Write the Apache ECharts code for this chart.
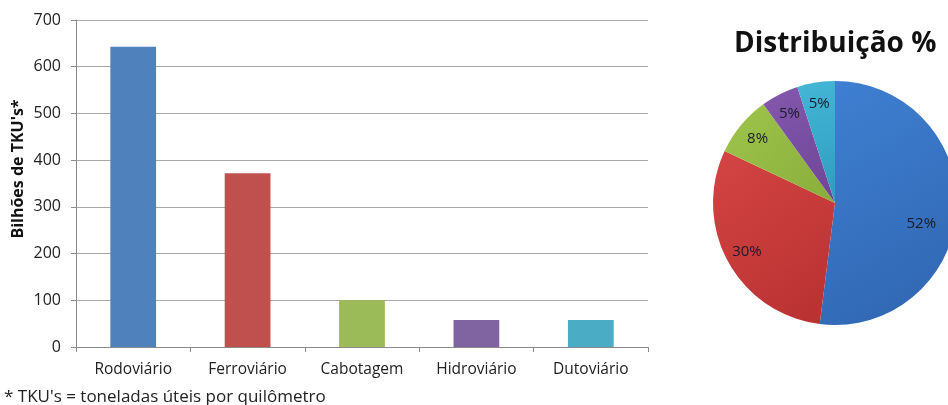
<!DOCTYPE html>
<html>
<head>
<meta charset="utf-8">
<script src="https://cdn.jsdelivr.net/npm/echarts@6/dist/echarts.min.js"></script>
<style>
  html, body { margin: 0; padding: 0; background: #fff; }
  #chart { width: 948px; height: 405px; }
</style>
</head>
<body>
<div id="chart"></div>
<script>
// Transport volume by mode (billions of TKU) and share of the total
const categories = ['Rodoviário', 'Ferroviário', 'Cabotagem', 'Hidroviário', 'Dutoviário'];
const volumes = [643, 372, 100, 58, 58];
const shares = [52, 30, 8, 5, 5];
const yTicks = [0, 100, 200, 300, 400, 500, 600, 700];

const barColors = ['#4F81BD', '#C0504D', '#9BBB59', '#8064A2', '#4BACC6'];
const pieColors = [
  ['#3F80D2', '#2F65B0'],
  ['#D44444', '#B83030'],
  ['#A0C54C', '#88AD3A'],
  ['#8358AE', '#6E4596'],
  ['#45B6D6', '#2E9CC0']
];

const font = '"Open Sans", "Noto Sans", sans-serif';
const chart = echarts.init(document.getElementById('chart'), null, { renderer: 'canvas' });

const pieData = shares.map((v, i) => ({
  value: v,
  name: categories[i],
  itemStyle: {
    color: new echarts.graphic.LinearGradient(0, 0, 1, 1, [
      { offset: 0, color: pieColors[i][0] },
      { offset: 1, color: pieColors[i][1] }
    ])
  }
}));

// the large slice's label sits a little lower and further in
const labelOffsets = [[-14, 14], [0, 0], [0, 0], [0, 0], [0, 0]];

chart.setOption({
  animation: false,
  textStyle: { fontFamily: font },
  title: {
    text: 'Distribuição %',
    left: 729,
    top: 25,
    textStyle: { fontFamily: font, fontSize: 28, fontWeight: 'bold', color: '#111' }
  },
  graphic: [
    {
      type: 'text',
      left: 4,
      top: 389,
      style: {
        text: "* TKU's = toneladas úteis por quilômetro",
        font: '17px ' + font,
        fill: '#222'
      }
    },
    {
      type: 'text',
      x: 18,
      y: 169,
      rotation: Math.PI / 2,
      style: {
        text: "Bilhões de TKU's*",
        font: 'bold 16px ' + font,
        fill: '#111',
        align: 'center',
        verticalAlign: 'middle'
      }
    }
  ],
  grid: { left: 76, right: 300, top: 20, bottom: 58, containLabel: false },
  xAxis: {
    type: 'category',
    data: categories,
    axisLine: { lineStyle: { color: '#8a8a8a', width: 1 } },
    axisTick: { show: true, length: 5, lineStyle: { color: '#8a8a8a' } },
    axisLabel: { fontSize: 15.5, color: '#222', margin: 15, fontFamily: font },
    splitLine: { show: false }
  },
  yAxis: {
    type: 'value',
    min: 0,
    max: 700,
    interval: 100,
    axisLine: { show: true, lineStyle: { color: '#8a8a8a', width: 1 } },
    axisTick: { show: true, length: 5, lineStyle: { color: '#8a8a8a' } },
    axisLabel: {
      fontSize: 16, color: '#222', margin: 15, fontFamily: font,
      formatter: v => (yTicks.includes(v) ? String(v) : '')
    },
    splitLine: { show: true, lineStyle: { color: '#a8a8a8', width: 1 } }
  },
  series: [
    {
      type: 'bar',
      data: volumes.map((v, i) => ({ value: v, itemStyle: { color: barColors[i] } })),
      barWidth: '40%'
    },
    {
      type: 'pie',
      center: [835, 203],
      radius: 122,
      startAngle: 90,
      clockwise: true,
      label: { show: false },
      labelLine: { show: false },
      silent: true,
      data: pieData
    },
    {
      // transparent ring carrying the percentage labels at ~80% of the radius
      type: 'pie',
      center: [835, 203],
      radius: [73, 122],
      startAngle: 90,
      clockwise: true,
      silent: true,
      itemStyle: { color: 'rgba(0,0,0,0)' },
      label: {
        show: true,
        position: 'inside',
        formatter: '{c}%',
        fontSize: 15,
        color: '#1a1a2a',
        fontFamily: font
      },
      labelLine: { show: false },
      data: shares.map((v, i) => ({
        value: v,
        name: categories[i],
        label: { offset: labelOffsets[i] }
      }))
    }
  ]
});
</script>
</body>
</html>
